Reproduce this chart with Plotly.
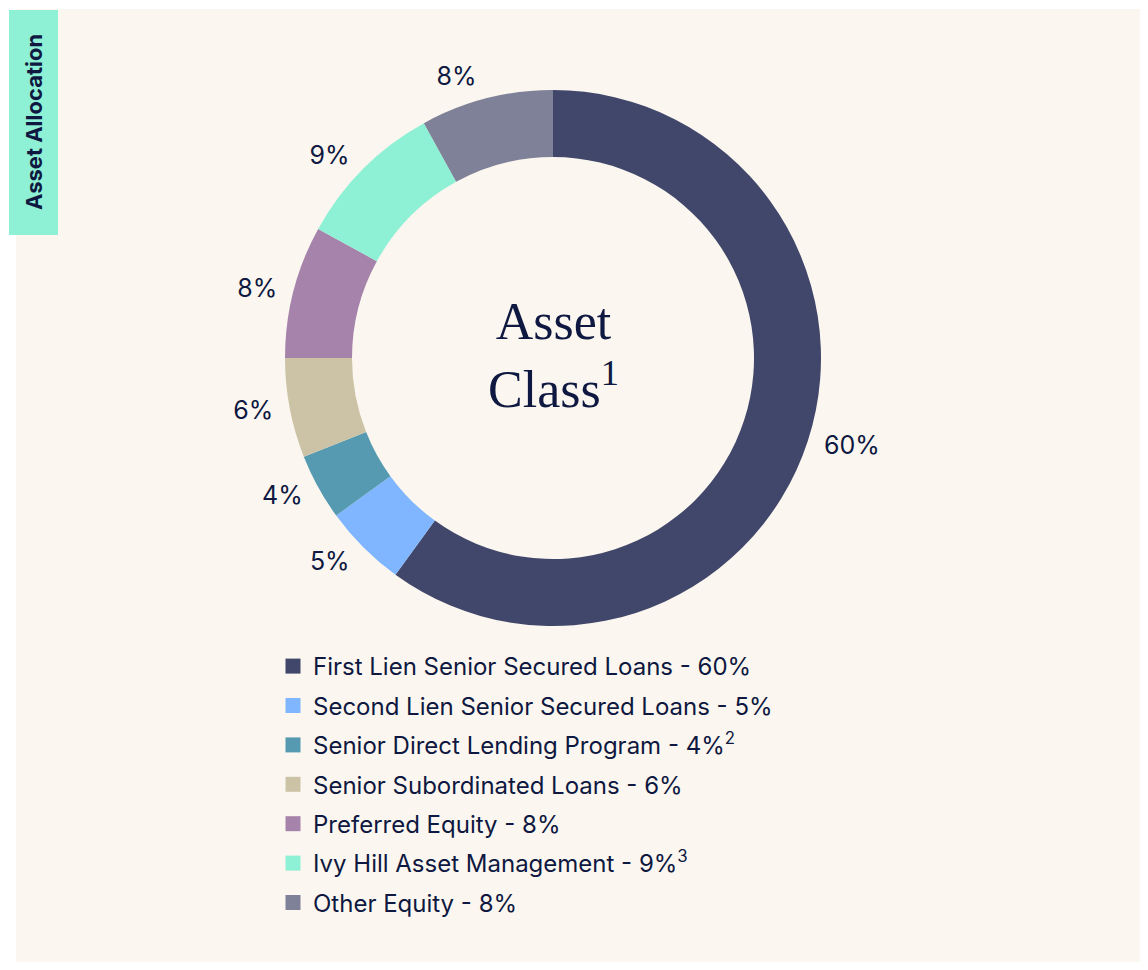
import plotly.graph_objects as go

# dados do gráfico
categorias = [
    "First Lien Senior Secured Loans",
    "Second Lien Senior Secured Loans",
    "Senior Direct Lending Program",
    "Senior Subordinated Loans",
    "Preferred Equity",
    "Ivy Hill Asset Management",
    "Other Equity",
]
percentuais = [60, 5, 4, 6, 8, 9, 8]
notas = ["", "", "2", "", "", "3", ""]
cores = ["#41476A", "#7FB6FF", "#559AB0", "#CCC3A7", "#A683AB", "#8EF0D5", "#7F8198"]

COR_TEXTO = "#0E1840"
COR_FUNDO = "#FBF7F0"
COR_ABA = "#8EF0D5"

W, H = 1132, 954  # o corpo da página tem 8px de margem


def px_x(v):
    return v / W


def px_y(v):
    # converte pixel (de cima) para coordenada paper (de baixo)
    return 1 - v / H


def dominio(cx, cy, r):
    return dict(x=[px_x(cx - r), px_x(cx + r)], y=[px_y(cy + r), px_y(cy - r)])


fig = go.Figure()

cx, cy, r = 545, 350, 268

# donut
fig.add_trace(go.Pie(
    labels=categorias,
    values=percentuais,
    sort=False,
    direction="clockwise",
    rotation=0,
    hole=0.75,
    marker=dict(colors=cores, line=dict(width=0)),
    textinfo="none",
    showlegend=False,
    hoverinfo="label+percent",
    domain=dominio(cx, cy, r),
))

# anel transparente um pouco maior, só para afastar os rótulos
fig.add_trace(go.Pie(
    labels=categorias,
    values=percentuais,
    sort=False,
    direction="clockwise",
    rotation=0,
    hole=0.97,
    marker=dict(colors=["rgba(0,0,0,0)"] * len(cores), line=dict(width=0)),
    texttemplate="%{value}%",
    textposition="outside",
    textfont=dict(family="Inter", size=25, color=COR_TEXTO),
    showlegend=False,
    hoverinfo="skip",
    domain=dominio(cx, cy, r + 9),
))

# legenda: um item por categoria (para controlar o espaçamento)
for nome, valor, nota, cor in zip(categorias, percentuais, notas, cores):
    rotulo = f"{nome} - {valor}%"
    if nota:
        rotulo += f"<sup>{nota}</sup>"
    fig.add_trace(go.Scatter(
        x=[None], y=[None],
        mode="markers",
        marker=dict(symbol="square", size=15, color=cor),
        name=rotulo,
        legendgroup=nome,
        hoverinfo="skip",
    ))

fig.update_layout(
    width=W,
    height=H,
    margin=dict(l=0, r=0, t=0, b=0),
    paper_bgcolor="white",
    plot_bgcolor="rgba(0,0,0,0)",
    xaxis=dict(visible=False),
    yaxis=dict(visible=False),
    font=dict(family="Inter", color=COR_TEXTO),
    legend=dict(
        x=px_x(265), y=px_y(636),
        xanchor="left", yanchor="top",
        font=dict(family="Inter", size=24, color=COR_TEXTO),
        tracegroupgap=5.2,
        bgcolor="rgba(0,0,0,0)",
    ),
    shapes=[
        # painel creme
        dict(type="rect", xref="paper", yref="paper", layer="below",
             x0=px_x(8), x1=1, y0=0, y1=px_y(1),
             fillcolor=COR_FUNDO, line=dict(width=0)),
        # aba lateral
        dict(type="rect", xref="paper", yref="paper", layer="below",
             x0=px_x(1), x1=px_x(50), y0=px_y(227), y1=px_y(2),
             fillcolor=COR_ABA, line=dict(width=0)),
    ],
    annotations=[
        dict(text="<b>Asset Allocation</b>", textangle=-90,
             xref="paper", yref="paper", x=px_x(26), y=px_y(114),
             xanchor="center", yanchor="middle",
             showarrow=False, font=dict(family="Inter", size=22, color=COR_TEXTO)),
        dict(text="Asset<br>Class<sup>1</sup>",
             xref="paper", yref="paper", x=px_x(cx), y=px_y(cy - 2),
             xanchor="center", yanchor="middle",
             showarrow=False,
             font=dict(family="Liberation Serif", size=52, color=COR_TEXTO)),
    ],
)

fig.write_html("out.html")
